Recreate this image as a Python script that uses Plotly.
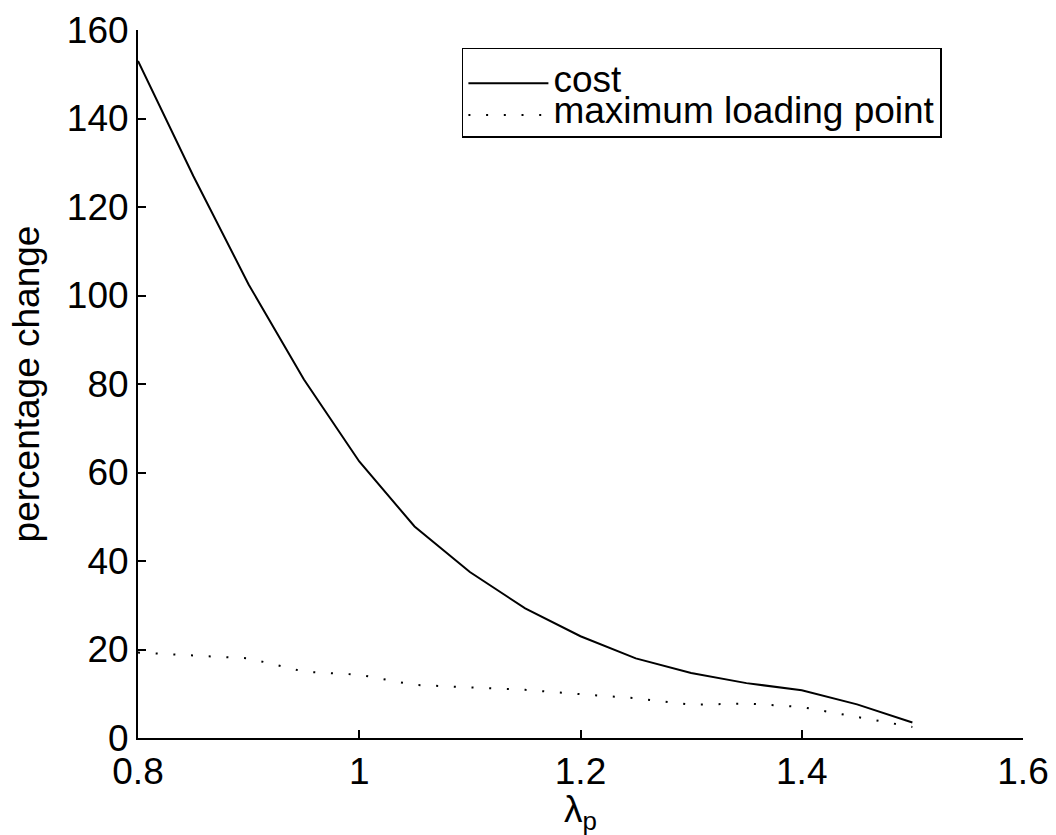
import plotly.graph_objects as go

lam = [0.80, 0.85, 0.90, 0.95, 1.00, 1.05, 1.10, 1.15, 1.20, 1.25, 1.30, 1.35, 1.40, 1.45, 1.50]
cost = [153.0, 127.0, 102.5, 81.0, 62.5, 47.8, 37.5, 29.3, 23.0, 18.0, 14.7, 12.4, 10.8, 7.6, 3.5]
max_loading = [19.3, 18.7, 18.0, 15.0, 14.3, 12.0, 11.4, 10.9, 9.9, 9.0, 7.5, 7.8, 7.0, 4.8, 2.5]

x_ticks = [0.8, 1.0, 1.2, 1.4, 1.6]
x_tick_text = ["0.8", "1", "1.2", "1.4", "1.6"]
y_ticks = [0, 20, 40, 60, 80, 100, 120, 140, 160]

FONT = "Liberation Sans, Arial, Helvetica, sans-serif"
BIG = 37

fig = go.Figure()
fig.add_trace(go.Scatter(
    x=lam, y=cost, mode="lines",
    name="<span style='font-size:%dpx'>cost</span>" % BIG,
    line=dict(color="black", width=2),
))
fig.add_trace(go.Scatter(
    x=lam, y=max_loading, mode="lines",
    name="<span style='font-size:%dpx'>maximum loading point</span>" % BIG,
    line=dict(color="black", width=2, dash="2px,15.7px"),
))

fig.update_layout(
    width=1056, height=835,
    margin=dict(l=138, r=33, t=30, b=97, autoexpand=False),
    paper_bgcolor="white", plot_bgcolor="white",
    font=dict(family=FONT, size=BIG, color="black"),
    showlegend=True,
    legend=dict(
        x=0.366, y=0.9746, xanchor="left", yanchor="top",
        bgcolor="white", bordercolor="black", borderwidth=1.5,
        font=dict(family=FONT, size=22, color="black"),
        title=dict(text="&nbsp;", font=dict(family=FONT, size=10, color="white")),
        itemwidth=80,
        tracegroupgap=0,
    ),
    xaxis=dict(
        range=[0.8, 1.6], tickvals=x_ticks, ticktext=x_tick_text,
        showgrid=False, zeroline=False,
        showline=True, linecolor="black", linewidth=2,
        ticks="inside", ticklen=8, tickwidth=2, tickcolor="black",
        ticklabelstandoff=0,
        tickfont=dict(family=FONT, size=BIG, color="black"),
        title=dict(text="λ<sub>p</sub>", font=dict(family=FONT, size=BIG, color="black"), standoff=9),
        automargin=False,
    ),
    yaxis=dict(
        range=[0, 160], tickvals=y_ticks,
        showgrid=False, zeroline=False,
        showline=True, linecolor="black", linewidth=2,
        ticks="inside", ticklen=8, tickwidth=2, tickcolor="black",
        ticklabelstandoff=0,
        tickfont=dict(family=FONT, size=BIG, color="black"),
        title=dict(text="percentage change", font=dict(family=FONT, size=BIG, color="black"), standoff=16),
        automargin=False,
    ),
)

fig.write_html("out.html")
